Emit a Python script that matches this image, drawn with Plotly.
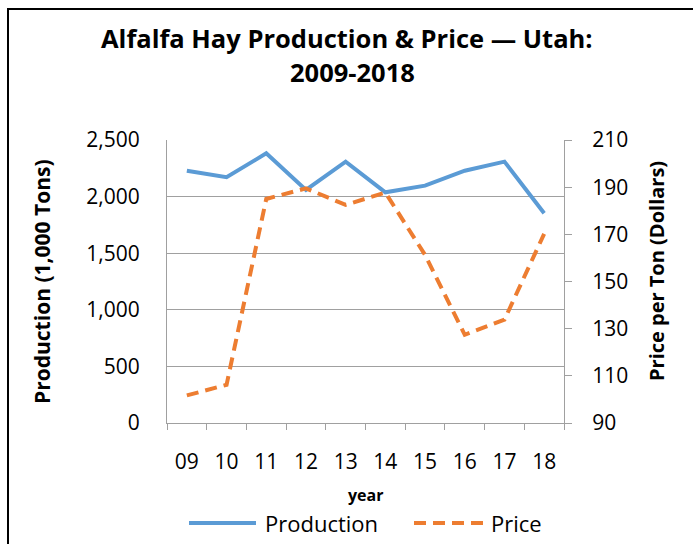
import plotly.graph_objects as go

years = ["09", "10", "11", "12", "13", "14", "15", "16", "17", "18"]
production = [2229, 2171, 2382, 2059, 2309, 2038, 2097, 2229, 2309, 1853]
price = [101.7, 106.2, 185.0, 189.5, 182.5, 187.7, 161.3, 127.4, 133.8, 170.2]

left_ticks = [0, 500, 1000, 1500, 2000, 2500]
left_labels = ["0", "500", "1,000", "1,500", "2,000", "2,500"]
right_ticks = [90, 110, 130, 150, 170, 190, 210]

FONT = "Open Sans"
BLUE, ORANGE = "#5B9BD5", "#ED7D31"
W, H = 693, 544
L, R, T, B = 167, 129, 140, 121
pw, ph = W - L - R, H - T - B


def px2x(px):
    return (px - L) / pw


def py2y(py):
    return (H - B - py) / ph


fig = go.Figure()
fig.add_trace(go.Scatter(x=years, y=production, name="Production", mode="lines",
                         line=dict(color=BLUE, width=4), showlegend=False))
fig.add_trace(go.Scatter(x=years, y=price, name="Price", mode="lines", yaxis="y2",
                         line=dict(color=ORANGE, width=4, dash="12px,7px"), showlegend=False))

annotations = [
    dict(text="<b>Alfalfa Hay Production &amp; Price — Utah:</b>", x=W / 2, y=38,
         font=dict(size=25.5)),
    dict(text="<b>2009-2018</b>", x=W / 2 + 6, y=72, font=dict(size=25.5)),
    dict(text="<b>year</b>", x=365, y=495, font=dict(size=16)),
    dict(text="<b>Production (1,000 Tons)</b>", x=42, y=282, textangle=-90,
         font=dict(size=21)),
    dict(text="<b>Price per Ton (Dollars)</b>", x=656, y=271, textangle=-90,
         font=dict(size=20)),
    dict(text="Production", x=263, y=523, xanchor="left", font=dict(size=22)),
    dict(text="Price", x=489, y=523, xanchor="left", font=dict(size=22)),
]
for a in annotations:
    a.setdefault("xanchor", "center")
    a["yanchor"] = "middle"
    a["xref"] = "paper"
    a["yref"] = "paper"
    a["showarrow"] = False
    a["x"] = px2x(a["x"])
    a["y"] = py2y(a["y"])

shapes = [
    dict(type="rect", xref="paper", yref="paper",
         x0=px2x(8), x1=px2x(720), y0=py2y(9), y1=py2y(600),
         line=dict(color="#000000", width=2), layer="below"),
    dict(type="line", xref="paper", yref="paper", x0=px2x(189), x1=px2x(256),
         y0=py2y(523), y1=py2y(523), line=dict(color=BLUE, width=4)),
    dict(type="line", xref="paper", yref="paper", x0=px2x(414), x1=px2x(484),
         y0=py2y(523), y1=py2y(523), line=dict(color=ORANGE, width=4, dash="12px,7px")),
]

fig.update_layout(
    width=W, height=H,
    margin=dict(l=L, r=R, t=T, b=B, autoexpand=False),
    paper_bgcolor="white", plot_bgcolor="white",
    font=dict(family=FONT, color="#000000", size=20),
    showlegend=False,
    xaxis=dict(type="category", showline=True, linecolor="#a0a0a0", linewidth=1,
               ticks="outside", tickson="boundaries", ticklen=6, tickcolor="#a0a0a0",
               showgrid=False, ticklabelstandoff=20, tickfont=dict(size=21),
               range=[-0.5, 9.5], automargin=False),
    yaxis=dict(range=[0, 2500], tickvals=left_ticks, ticktext=left_labels,
               showline=True, linecolor="#a0a0a0", linewidth=1,
               showgrid=True, gridcolor="#a0a0a0", gridwidth=1, zeroline=False,
               ticks="", ticklabelstandoff=22, tickfont=dict(size=21), automargin=False),
    yaxis2=dict(range=[90, 210], tickvals=right_ticks, overlaying="y", side="right",
                showline=True, linecolor="#a0a0a0", linewidth=1, showgrid=False,
                zeroline=False, ticks="outside", ticklen=7, tickcolor="#a0a0a0",
                ticklabelstandoff=16, tickfont=dict(size=21), automargin=False),
    annotations=annotations,
    shapes=shapes,
)

fig.write_html("out.html", config={"displayModeBar": False},
               post_script="document.body.style.margin='0';document.body.style.overflow='hidden';")
